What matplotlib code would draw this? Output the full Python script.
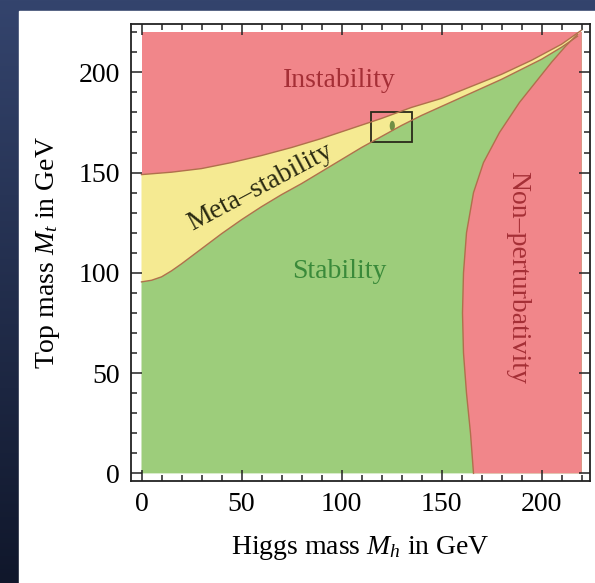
import numpy as np
import matplotlib
matplotlib.use('Agg')
import matplotlib.pyplot as plt
from matplotlib.patches import Rectangle, Ellipse, Polygon
from matplotlib.colors import LinearSegmentedColormap

plt.rcParams['font.family'] = ['Liberation Serif', 'DejaVu Serif']
plt.rcParams['mathtext.fontset'] = 'custom'
plt.rcParams['mathtext.rm'] = 'Liberation Serif'
plt.rcParams['mathtext.it'] = 'Liberation Serif:italic'

# Границы областей (Mh, Mt в ГэВ)
upper_mh = [0, 15, 30, 45, 60, 75, 90, 105, 120, 135, 150, 165, 180, 195, 210, 220]
upper_mt = [149, 150.2, 152, 155, 158.5, 162.5, 167, 172, 177, 182.5, 187, 193, 199, 206, 214, 221]

lower_mh = [0, 5, 10, 15, 20, 30, 40, 50, 60, 70, 80, 90, 100, 110, 120, 130, 140, 150, 160, 170, 180, 190,
            200, 210, 218]
lower_mt = [95.5, 96.3, 98, 101, 104.5, 112, 119.5, 126.5, 133, 139, 144.5, 150.5, 156.5, 162.5, 168, 173.5,
            178.5, 183, 187.5, 192, 196.5, 201.5, 206.5, 212.5, 218]

# граница непертурбативной области: Mt -> Mh
nonpert_mt = [0, 20, 40, 60, 80, 100, 120, 140, 155, 170, 185, 195, 205, 213, 219]
nonpert_mh = [166, 164.5, 162.5, 161, 160.5, 161, 162.5, 166, 171, 179, 189, 197, 205, 212, 218]

# экспериментальная точка и рамка вокруг неё
point_mh, point_mt = 125.4, 173.3
box_mh = [114.6, 135.0]
box_mt = [165.3, 180.3]

x_ticks = [0, 50, 100, 150, 200]
y_ticks = [0, 50, 100, 150, 200]

pink = '#f1868a'
green = '#9dcd7b'
yellow = '#f5ea92'
edge = '#b0704c'

fig = plt.figure(figsize=(5.95, 5.83), dpi=100)

# фон: тёмно-синий градиент и белая подложка
bg = fig.add_axes([0, 0, 1, 1], zorder=-1)
grad = np.linspace(1, 0, 256).reshape(-1, 1)
cmap_bg = LinearSegmentedColormap.from_list('bg', ['#10172b', '#34446d'])
bg.imshow(grad, extent=[0, 1, 0, 1], aspect='auto', cmap=cmap_bg, transform=bg.transAxes)
bg.add_patch(Rectangle((19 / 595, 0), 1, 1 - 10.5 / 583, transform=bg.transAxes, color='white'))
bg.set_xlim(0, 1)
bg.set_ylim(0, 1)
bg.axis('off')

ax = fig.add_axes([131 / 595, (583 - 481) / 583, (590 - 131) / 595, (481 - 24) / 583], zorder=1)

# области
ax.add_patch(Rectangle((0, 0), 220, 220, color=pink, lw=0))
green_poly = [(0, 0)] + list(zip(lower_mh, lower_mt)) + [(220, 220), (220, 0)]
ax.add_patch(Polygon(green_poly, closed=True, color=green, lw=0))
band = list(zip(upper_mh, upper_mt)) + list(zip(lower_mh[::-1], lower_mt[::-1]))
ax.add_patch(Polygon(band, closed=True, color=yellow, lw=0))
np_poly = list(zip(nonpert_mh, nonpert_mt)) + [(220, 220), (220, 0)]
ax.add_patch(Polygon(np_poly, closed=True, color=pink, lw=0))

ax.plot(upper_mh, upper_mt, color=edge, lw=1)
ax.plot(lower_mh, lower_mt, color=edge, lw=1)
ax.plot(nonpert_mh, nonpert_mt, color=edge, lw=1)

ax.add_patch(Ellipse((point_mh, point_mt), 2.6, 5, color='#6f8f45', lw=0))
ax.add_patch(Rectangle((box_mh[0], box_mt[0]), box_mh[1] - box_mh[0], box_mt[1] - box_mt[0],
                       fill=False, ec='#2a2a1a', lw=1.3))

# подписи областей
ax.text(99, 196, 'Instability', color='#a52f36', fontsize=20, ha='center', va='center')
ax.text(99, 100.5, 'Stability', color='#3a8a3a', fontsize=20, ha='center', va='center')
ax.text(59.5, 142.5, 'Meta\u2013stability', color='#2a2a12', fontsize=20, ha='center', va='center',
        rotation=28, rotation_mode='anchor')
ax.text(188, 97.6, 'Non\u2013perturbativity', color='#a52f36', fontsize=20, ha='center', va='center',
        rotation=-90)

ax.set_xlim(-5.25, 224.25)
ax.set_ylim(-3.8, 224.1)
ax.set_xticks(x_ticks)
ax.set_yticks(y_ticks)
ax.set_xticks(np.arange(0, 221, 10), minor=True)
ax.set_yticks(np.arange(0, 221, 10), minor=True)
ax.tick_params(which='both', direction='in', top=True, right=True, labelsize=20, color='#222222', width=1.1)
ax.tick_params(which='major', length=8)
ax.tick_params(which='minor', length=4.5)
ax.tick_params(axis='x', pad=8)
ax.tick_params(axis='y', pad=8)
for s in ax.spines.values():
    s.set_linewidth(1.3)
    s.set_color('#222222')

ax.set_xlabel('Higgs mass $M_h$ in GeV', fontsize=20, labelpad=12)
ax.set_ylabel('Top mass $M_t$ in GeV', fontsize=20, labelpad=12)

fig.savefig('out.png', dpi=100)
